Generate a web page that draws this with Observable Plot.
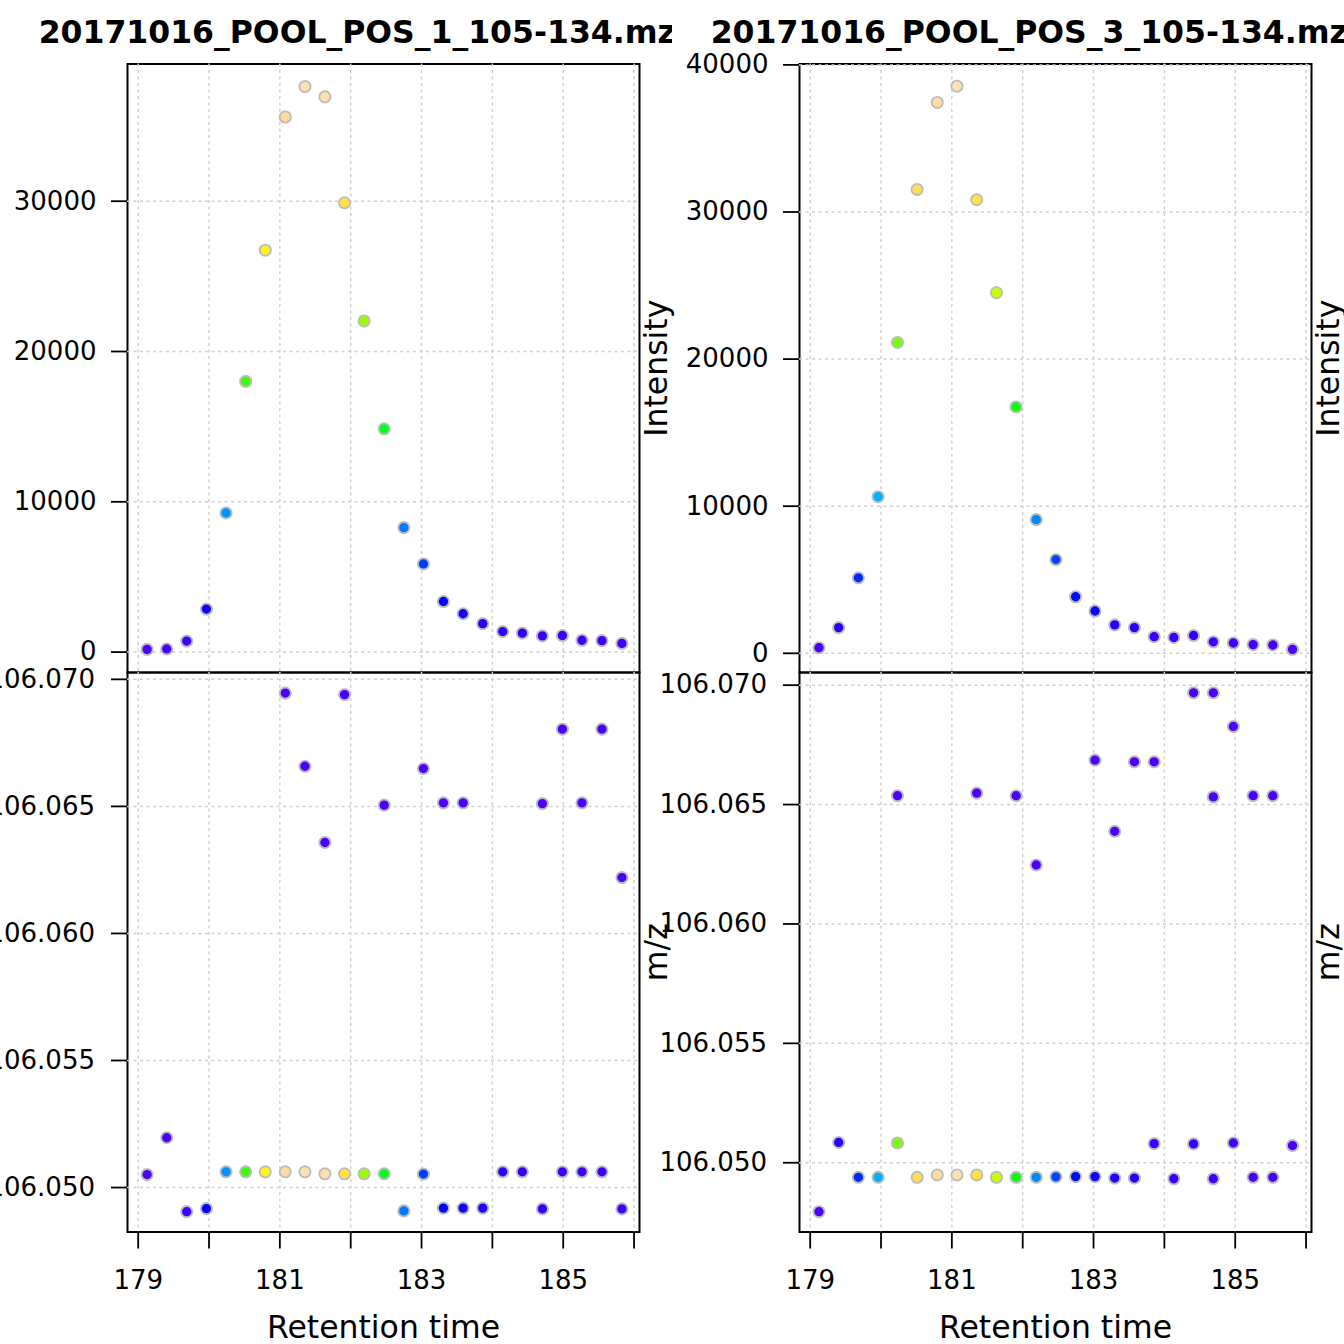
<!DOCTYPE html>
<html>
<head>
<meta charset="utf-8">
<script src="https://cdn.jsdelivr.net/npm/d3@7"></script>
<script src="https://cdn.jsdelivr.net/npm/@observablehq/plot@0.6"></script>
<style>
  html, body { margin: 0; padding: 0; background: white; }
  #chart { position: relative; width: 1344px; height: 1344px; background: white; overflow: hidden; font-family: "DejaVu Sans", sans-serif; }
  .col { position: absolute; top: 0; width: 672px; height: 1344px; }
  .titleclip { position: absolute; top: 0; width: 672px; height: 63px; overflow: hidden; z-index: 5; }
  .title { position: absolute; left: -217px; width: 1200px; top: 17px; text-align: center; white-space: nowrap;
           font: bold 31.5px "DejaVu Sans", sans-serif; line-height: 31.5px; color: black; }
  .panel { position: absolute; left: 0; }
</style>
</head>
<body>
<div id="chart"></div>
<script>
// ---------- data: file 1 (20171016_POOL_POS_1) ----------
const title1 = "20171016_POOL_POS_1_105-134.mzML";
const rt1 = [179.126, 179.403, 179.685, 179.963, 180.240, 180.517, 180.794, 181.077, 181.354, 181.636,
             181.913, 182.190, 182.473, 182.750, 183.027, 183.309, 183.587, 183.864, 184.146, 184.423,
             184.706, 184.988, 185.265, 185.547, 185.829];
const int1 = [184, 210, 736, 2866, 9256, 18012, 26742, 35604, 37629, 36945,
              29895, 22035, 14857, 8283, 5864, 3366, 2551, 1893, 1367, 1262,
              1078, 1104, 789, 763, 579];
const mz1 = [106.05051, 106.05196, 106.04905, 106.04917, 106.05062, 106.05062, 106.05062, 106.05062, 106.05062, 106.05054,
             106.05054, 106.05054, 106.05054, 106.04908, 106.05053, 106.04919, 106.04919, 106.04919, 106.05062, 106.05062,
             106.04916, 106.05062, 106.05062, 106.05062, 106.04916];
// additional low-intensity peaks in the m/z window
const extraRt1 = [181.077, 181.354, 181.636, 181.913, 182.473, 183.027, 183.309, 183.587, 184.706, 184.988, 185.265, 185.547, 185.829];
const extraMz1 = [106.06946, 106.06658, 106.06358, 106.06940, 106.06505, 106.06649, 106.06514, 106.06514, 106.06511, 106.06804, 106.06514, 106.06804, 106.06220];
const extraInt1 = [210, 180, 160, 200, 150, 170, 140, 150, 130, 160, 140, 150, 120];

// ---------- data: file 3 (20171016_POOL_POS_3) ----------
const title3 = "20171016_POOL_POS_3_105-134.mzML";
const rt3 = [179.124, 179.402, 179.680, 179.959, 180.232, 180.510, 180.794, 181.072, 181.351, 181.629,
             181.907, 182.191, 182.469, 182.747, 183.021, 183.299, 183.577, 183.856, 184.134, 184.412,
             184.691, 184.974, 185.253, 185.531, 185.809];
const int3 = [376, 1747, 5134, 10645, 21129, 31532, 37446, 38548, 30833, 24516,
              16747, 9086, 6371, 3844, 2876, 1935, 1747, 1129, 1075, 1210,
              780, 700, 591, 565, 269];
const mz3 = [106.04795, 106.05085, 106.04939, 106.04939, 106.05083, 106.04939, 106.04949, 106.04949, 106.04949, 106.04939,
             106.04939, 106.04939, 106.04941, 106.04942, 106.04942, 106.04936, 106.04936, 106.05080, 106.04933, 106.05079,
             106.04933, 106.05083, 106.04939, 106.04939, 106.05072];
const extraRt3 = [180.232, 181.351, 181.907, 182.191, 183.021, 183.299, 183.577, 183.856, 184.412, 184.691, 184.691, 184.974, 185.253, 185.531];
const extraMz3 = [106.06537, 106.06548, 106.06537, 106.06247, 106.06686, 106.06388, 106.06679, 106.06679, 106.06968, 106.06968, 106.06532, 106.06827, 106.06537, 106.06537];
const extraInt3 = [220, 200, 180, 170, 160, 150, 170, 160, 140, 150, 130, 140, 150, 120];

// ---------- ticks ----------
const rtTicks = [179, 180, 181, 182, 183, 184, 185, 186];
const intTicks1 = [0, 10000, 20000, 30000];
const intTicks3 = [0, 10000, 20000, 30000, 40000];
const mzTicks = [106.050, 106.055, 106.060, 106.065, 106.070];

// ---------- R topo.colors(256) palette ----------
function hsv2hex(h, s, v) {
  const i = Math.floor(h * 6), f = h * 6 - i;
  const p = v * (1 - s), q = v * (1 - f * s), t = v * (1 - (1 - f) * s);
  let r, g, b;
  switch (((i % 6) + 6) % 6) {
    case 0: r = v; g = t; b = p; break;
    case 1: r = q; g = v; b = p; break;
    case 2: r = p; g = v; b = t; break;
    case 3: r = p; g = q; b = v; break;
    case 4: r = t; g = p; b = v; break;
    default: r = v; g = p; b = q;
  }
  return d3.rgb(r * 255, g * 255, b * 255).formatHex();
}
function topoColors(n) {
  const j = Math.floor(n / 3), k = Math.floor(n / 3), i = n - j - k;
  const seq = (a, b, len) => d3.range(len).map(m => len === 1 ? a : a + (b - a) * m / (len - 1));
  const c1 = seq(43 / 60, 31 / 60, i).map(h => hsv2hex(h, 1, 1));
  const c2 = seq(23 / 60, 11 / 60, j).map(h => hsv2hex(h, 1, 1));
  const hs = seq(10 / 60, 6 / 60, k), ss = seq(1, 0.3, k);
  const c3 = hs.map((h, m) => hsv2hex(h, ss[m], 1));
  return [...c1, ...c2, ...c3];
}
const topo = topoColors(256);
const topoInterp = t => topo[Math.max(0, Math.min(255, Math.floor(t * 256)))];

// ---------- layout constants ----------
const W = 672;
const ML = 127, MR = 33;
const xDomain = [178.849, 186.077];
const gridStyle = {stroke: "#d0d0d0", strokeOpacity: 1, strokeDasharray: "3,3.5", strokeWidth: 1.5};
const dotStyle = {r: 5.6, stroke: "#bdbdbd", strokeWidth: 1.9};
const FONT = "DejaVu Sans, sans-serif";

function buildColumn(left, title, rt, ints, mz, eRt, eMz, eInt, intTicks, yTopDomain, mzDomain) {
  const main = rt.map((r, i) => ({rt: r, int: ints[i], mz: mz[i]}));
  const extra = eRt.map((r, i) => ({rt: r, int: eInt[i], mz: eMz[i]}));
  const all = main.concat(extra);
  const colorDomain = d3.extent(all, d => d.int);
  const color = {type: "linear", domain: colorDomain, interpolate: topoInterp};

  const col = document.createElement("div");
  col.className = "col";
  col.style.left = left + "px";

  const top = Plot.plot({
    width: W, height: 672,
    marginLeft: ML, marginRight: MR, marginTop: 63.5, marginBottom: 0,
    style: {fontFamily: FONT, fontSize: "26px", color: "black", background: "transparent", overflow: "visible"},
    x: {domain: xDomain, axis: null},
    y: {domain: yTopDomain},
    color,
    marks: [
      Plot.frame({stroke: "black", strokeWidth: 2}),
      Plot.gridX({ticks: rtTicks, ...gridStyle}),
      Plot.gridY({ticks: intTicks, ...gridStyle}),
      Plot.axisY({ticks: intTicks, tickSize: 16, tickPadding: 15, tickFormat: d => String(d),
                  label: null, fontSize: 26, strokeWidth: 1.8}),
      Plot.dot(main, {x: "rt", y: "int", fill: "int", ...dotStyle}),
      Plot.text(["Intensity"], {frameAnchor: "right", text: d => d, rotate: -90, lineAnchor: "bottom",
                                textAnchor: "middle", dx: 27, fontSize: 31.5, fill: "black"})
    ]
  });
  top.classList.add("panel");
  top.style.top = "0px";
  col.appendChild(top);

  const bottom = Plot.plot({
    width: W, height: 672,
    marginLeft: ML, marginRight: MR, marginTop: 0, marginBottom: 112.5,
    style: {fontFamily: FONT, fontSize: "26px", color: "black", background: "transparent", overflow: "visible"},
    x: {domain: xDomain},
    y: {domain: mzDomain},
    color,
    marks: [
      Plot.frame({stroke: "black", strokeWidth: 2}),
      Plot.gridX({ticks: rtTicks, ...gridStyle}),
      Plot.gridY({ticks: mzTicks, ...gridStyle}),
      Plot.axisY({ticks: mzTicks, tickSize: 16, tickPadding: 16.5, tickFormat: d3.format(".3f"),
                  label: null, fontSize: 26, strokeWidth: 1.8}),
      Plot.axisX({ticks: rtTicks, tickSize: 17, tickPadding: 22,
                  tickFormat: d => (d % 2 === 1 ? String(d) : ""), label: null, fontSize: 26, strokeWidth: 1.8}),
      Plot.dot(all, {x: "rt", y: "mz", fill: "int", ...dotStyle}),
      Plot.text(["m/z"], {frameAnchor: "right", text: d => d, rotate: -90, lineAnchor: "bottom",
                          textAnchor: "middle", dx: 27, fontSize: 31.5, fill: "black"}),
      Plot.text(["Retention time"], {frameAnchor: "bottom", text: d => d, lineAnchor: "bottom",
                                     textAnchor: "middle", dy: 105.5, fontSize: 31.5, fill: "black"})
    ]
  });
  bottom.classList.add("panel");
  bottom.style.top = "672px";
  col.appendChild(bottom);

  return col;
}

function buildTitle(left, title) {
  const clip = document.createElement("div");
  clip.className = "titleclip";
  clip.style.left = left + "px";
  const t = document.createElement("div");
  t.className = "title";
  t.textContent = title;
  clip.appendChild(t);
  return clip;
}

const chart = document.getElementById("chart");
chart.appendChild(buildColumn(0, title1, rt1, int1, mz1, extraRt1, extraMz1, extraInt1,
                              intTicks1, [-1357, 39130], [106.04825, 106.07027]));
chart.appendChild(buildColumn(672, title3, rt3, int3, mz3, extraRt3, extraMz3, extraInt3,
                              intTicks3, [-1305, 40060], [106.04710, 106.07053]));
chart.appendChild(buildTitle(0, title1));
chart.appendChild(buildTitle(672, title3));
</script>
</body>
</html>
